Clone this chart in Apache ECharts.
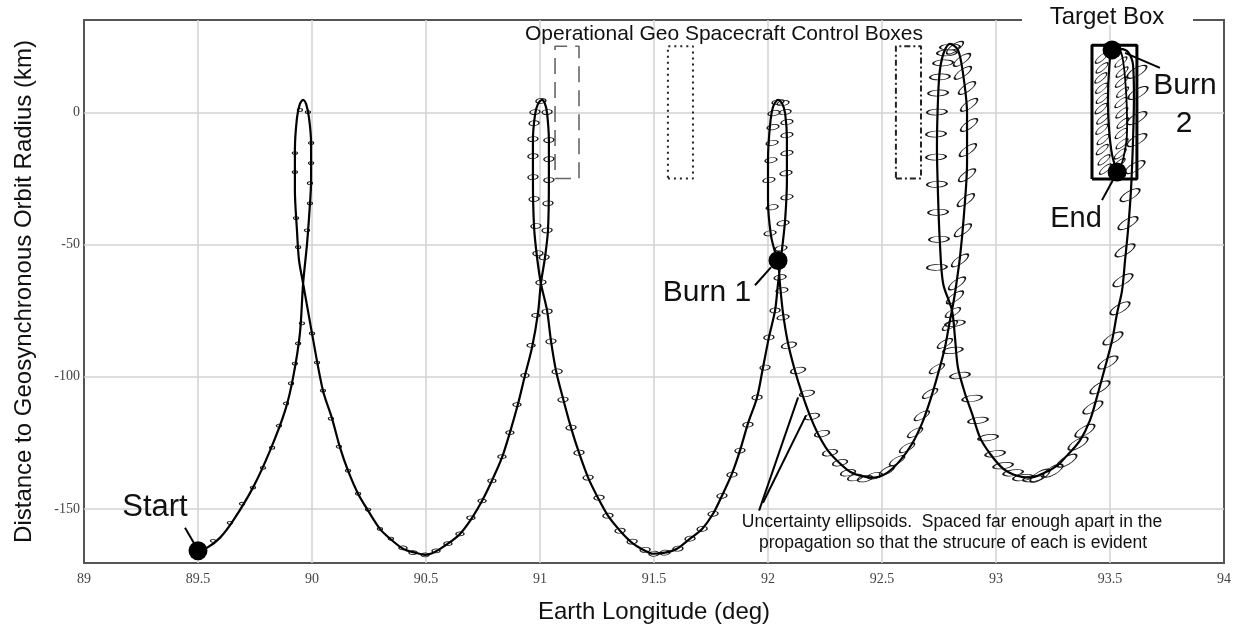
<!DOCTYPE html>
<html><head><meta charset="utf-8">
<script src="https://cdn.jsdelivr.net/npm/echarts@6/dist/echarts.min.js"></script>
<style>html,body{margin:0;padding:0;background:#fff}#c{width:1239px;height:630px}</style>
</head><body><div id="c"></div>
<script>
// ---- Trajectory (Earth longitude deg, distance to GEO radius km) ----
const trajLon = [
89.500,89.539,89.596,89.654,89.741,89.816,89.882,89.917,89.947,89.961,
89.978,89.987,89.996,89.996,89.987,89.974,89.961,89.947,89.934,89.925,
89.925,89.934,89.943,89.961,90.000,90.048,90.088,90.123,90.158,90.202,
90.246,90.298,90.342,90.399,90.452,90.496,90.539,90.596,90.649,90.702,
90.746,90.789,90.833,90.868,90.904,90.934,90.965,90.991,91.004,91.022,
91.035,91.039,91.039,91.031,91.022,91.009,90.991,90.978,90.969,90.969,
90.974,90.987,91.004,91.031,91.048,91.070,91.101,91.136,91.171,91.211,
91.254,91.298,91.351,91.404,91.452,91.496,91.548,91.601,91.658,91.711,
91.759,91.798,91.842,91.877,91.912,91.952,91.978,92.004,92.031,92.044,
92.061,92.075,92.083,92.083,92.075,92.061,92.044,92.022,92.009,92.000,
92.000,92.013,92.035,92.044,
92.053,92.066,92.088,92.118,92.149,92.184,92.219,92.263,92.316,92.360,
92.404,92.461,92.522,92.579,92.632,92.675,92.711,92.746,92.776,92.798,
92.807,92.820,92.842,92.860,92.873,92.873,92.855,92.833,92.798,92.772,
92.754,92.746,92.741,92.746,92.754,92.768,92.807,92.820,92.833,92.864,
92.895,92.930,92.974,93.031,93.092,93.149,93.206,93.268,93.311,93.368,
93.412,93.447,93.478,93.509,93.531,93.553,93.566,93.579,93.592,93.601,
93.605,93.601,93.579,93.544,93.509,
93.496,93.491,93.496,93.509,93.531];
const trajDist = [
-165.8,-164.7,-160.9,-154.4,-141.9,-127.9,-112.8,-100.3,-83.6,-64.7,
-49.9,-39.7,-25.6,-11.6,-2.2,3.2,4.7,3.2,-2.2,-14.3,
-29.4,-44.6,-55.9,-64.7,-83.6,-105.2,-115.8,-126.8,-135.5,-144.2,
-150.6,-157.5,-161.2,-165.0,-166.5,-167.3,-166.2,-163.1,-159.4,-153.3,
-146.9,-139.3,-130.6,-121.1,-110.1,-99.5,-88.9,-76.0,-64.7,-54.8,
-44.6,-25.6,-10.5,-0.3,3.2,4.7,3.2,-1.1,-10.5,-25.6,
-43.4,-54.8,-64.7,-74.9,-86.3,-97.6,-108.2,-119.2,-128.7,-138.1,
-145.7,-152.5,-158.2,-162.8,-165.4,-166.9,-166.5,-165.0,-161.2,-157.5,
-151.8,-145.0,-136.6,-127.9,-117.7,-107.8,-96.5,-85.1,-74.9,-64.7,
-52.2,-40.8,-25.6,-10.5,-0.3,3.5,4.7,2.0,-4.8,-18.1,
-33.2,-46.5,-54.1,-56.0,
-65.4,-76.0,-87.4,-97.6,-106.3,-114.7,-121.5,-127.9,-132.8,-135.9,
-137.4,-138.1,-136.3,-131.7,-125.3,-117.7,-109.0,-98.8,-88.9,-78.7,
-74.9,-68.4,-54.8,-38.1,-19.2,-0.3,14.9,23.6,25.9,22.8,
16.0,5.8,-13.1,-32.1,-49.5,-64.7,-74.9,-85.1,-96.5,-106.3,
-113.9,-123.0,-129.1,-134.7,-137.4,-138.1,-136.6,-133.6,-129.8,-124.1,
-116.5,-106.3,-96.5,-86.3,-76.0,-67.3,-56.0,-44.6,-29.4,-10.5,
5.8,17.9,22.8,24.0,23.6,
16.0,4.7,-6.6,-16.0,-22.6];
// second drift curve inside the target box
const boxCurveLon = [93.509,93.548,93.570,93.575,93.557,93.531];
const boxCurveDist = [23.6,22.8,8.4,-6.6,-18.0,-22.6];

// ---- Events ----
const eventNames = ['Start','Burn 1','Burn 2','End'];
const eventLon = [89.500, 92.044, 93.509, 93.531];
const eventDist = [-165.8, -56.0, 23.6, -22.6];

// ---- Uncertainty ellipsoid centres, by propagation stage ----
const ellTinyLon = [89.566,89.640,89.693,89.741,89.785,89.825,89.855,89.886,89.908,89.925,89.939,89.956,
  89.925,89.925,89.930,89.939,89.996,89.996,89.991,89.991,89.978,89.947,89.982,
  90.000,90.022,90.048,90.083,90.118,90.158,90.202,90.246,90.298,90.346];
const ellTinyDist = [-162.0,-155.2,-148.0,-141.9,-134.4,-126.8,-118.5,-110.1,-102.5,-95.0,-87.4,-79.8,
  -15.4,-22.6,-40.0,-51.0,-11.6,-19.2,-26.8,-34.4,-44.6,0.9,0.1,
  -83.6,-94.6,-105.2,-115.8,-126.4,-135.5,-144.2,-150.2,-157.5,-161.2];
const ellSmallLon = [90.399,90.443,90.496,90.544,90.596,90.649,90.697,90.746,90.789,90.833,90.868,90.899,90.934,90.961,90.982];
const ellSmallDist = [-164.7,-166.5,-167.3,-165.8,-163.1,-159.4,-153.3,-146.9,-139.3,-130.2,-121.1,-110.5,-99.5,-88.1,-76.8];
const ellMedLon = [90.978,90.974,90.969,90.969,90.969,90.974,90.982,90.991,
  91.031,91.039,91.039,91.039,91.035,91.031,91.018,91.004,91.004,
  91.031,91.048,91.075,91.101,91.136,91.171,91.211,91.259,91.298,91.351,91.404,91.461,91.500,
  91.548,91.605,91.658,91.711,91.759,91.798,91.842,91.877,91.912,91.952,91.987,92.004,92.031];
const ellMedDist = [0.1,-4.1,-10.1,-16.6,-24.5,-32.8,-43.0,-53.3,
  0.1,-10.5,-17.7,-25.6,-34.4,-44.6,-54.8,4.3,-64.3,
  -75.3,-86.6,-98.0,-108.6,-119.2,-128.7,-138.1,-145.7,-152.5,-158.2,-162.3,-165.4,-166.9,
  -166.5,-165.0,-161.2,-157.5,-151.8,-145.0,-137.0,-127.9,-118.1,-107.8,-96.5,-85.1,-74.9];
const ellLoop3Lon = [92.009,92.018,92.004,92.013,92.018,92.022,92.026,92.044,
  92.066,92.075,92.083,92.083,92.083,92.079,92.083,92.066,92.057,92.053,92.061,92.066];
const ellLoop3Dist = [-45.7,-35.9,-25.6,-18.1,-11.6,-5.6,-0.3,3.9,
  3.5,0.1,-3.7,-8.6,-15.4,-23.0,-32.1,-41.9,-51.4,-62.4,-67.3,-77.5];
const ellPost1Lon = [92.092,92.132,92.171,92.193,92.237,92.272,92.316,92.351,92.382,92.425,92.469];
const ellPost1Dist = [-88.1,-97.6,-106.3,-115.0,-121.5,-128.7,-132.5,-136.3,-138.1,-138.5,-137.4];
const ellRise4Lon = [92.522,92.566,92.610,92.645,92.675,92.711,92.741,92.776,92.798,92.811];
const ellRise4Dist = [-135.5,-131.7,-126.8,-121.1,-114.7,-106.3,-96.9,-87.4,-80.6,-75.7];
const ellLoop4RLon = [92.820,92.851,92.855,92.873,92.882,92.882,92.877,92.873,92.868,92.855,92.842,92.829,92.820];
const ellLoop4RDist = [24.4,19.8,14.9,9.2,2.8,-4.8,-14.3,-23.8,-33.2,-44.6,-56.0,-64.7,-70.0];
const ellLoop4LLon = [92.741,92.750,92.746,92.741,92.737,92.737,92.741,92.746,92.754,92.768,92.785,92.798];
const ellLoop4LDist = [-58.6,-48.0,-37.8,-27.2,-16.9,-8.2,0.1,7.3,13.4,18.7,22.5,24.7];
const ellDesc4Lon = [92.820,92.811,92.842,92.895,92.921,92.965,92.996,93.031,93.075,93.118,93.162];
const ellDesc4Dist = [-79.8,-90.0,-99.5,-108.2,-116.5,-123.0,-129.1,-133.6,-136.3,-138.1,-138.5];
const ellRiseTLon = [93.193,93.250,93.311,93.360,93.390,93.425,93.456,93.491,93.513,93.544,93.557,93.566,93.579,93.588,93.610,93.618,93.618,93.623,93.618];
const ellRiseTDist = [-137.4,-135.5,-131.7,-125.3,-120.4,-111.6,-104.0,-94.6,-85.5,-74.1,-63.5,-52.2,-41.9,-31.3,-20.7,-10.5,-2.2,7.3,15.3];
const ellBoxLon = [93.462,93.548,93.465,93.553,93.460,93.550,93.463,93.555,93.466,93.548,93.461,93.552,93.468,93.557,93.464,93.549,93.470,93.553,93.466,93.545,93.474,93.540,93.480,93.530];
const ellBoxDist = [20.5,19.0,16.8,15.2,13.0,11.4,9.1,7.6,5.3,3.7,1.4,-0.2,-2.5,-4.1,-6.4,-8.0,-10.3,-11.9,-14.1,-15.7,-18.0,-19.4,-21.5,-22.8];

// ---- Control boxes [lonMin, lonMax], [distMin, distMax] ----
const dashedBoxLon = [91.066, 91.171];
const dottedBoxLon = [91.561, 91.671];
const dashDotBoxLon = [92.561, 92.671];
const controlBoxDist = [-25, 25];
const targetBoxLon = [93.421, 93.618];
const targetBoxDist = [-25.2, 25.4];

// ---- Callout leader lines ----
const calloutFromLon = [89.443, 91.943, 93.566, 93.465, 91.961, 91.978];
const calloutFromDist = [-157.1, -65.4, 22.5, -33.2, -150.6, -147.6];
const calloutToLon = [89.482, 92.013, 93.719, 93.513, 92.132, 92.167];
const calloutToDist = [-162.8, -58.6, 16.8, -25.6, -107.8, -114.6];

// ---- Axis ----
const xTicks = {min: 89, max: 94, step: 0.5};
const yRange = {min: -170.4, max: 34.9, step: 50};

const chart = echarts.init(document.getElementById('c'), null, {renderer: 'canvas'});
const ELL = 'path://M0,5 C0,2.24 4.48,0 10,0 C15.52,0 20,2.24 20,5 C20,7.76 15.52,10 10,10 C4.48,10 0,7.76 0,5 Z';
const zip = (a, b) => a.map((v, i) => [v, b[i]]);
function ellSeries(lon, dist, size, rot, w) {
  return {type: 'scatter', data: zip(lon, dist), symbol: ELL, symbolSize: size, symbolRotate: rot,
    itemStyle: {color: 'rgba(0,0,0,0)', borderColor: '#151515', borderWidth: w, opacity: 1}, z: 3, silent: true};
}
function rect(lon, dist) {
  return [[lon[0], dist[0]], [lon[1], dist[0]], [lon[1], dist[1]], [lon[0], dist[1]], [lon[0], dist[0]]];
}
function boxSeries(lon, dist, style) {
  return {type: 'line', data: rect(lon, dist), showSymbol: false, lineStyle: style, z: 2, silent: true};
}
const series = [
  {type: 'line', data: zip(trajLon, trajDist), showSymbol: false, smooth: 0.3,
   lineStyle: {color: '#000', width: 2.2}, z: 4, silent: true},
  {type: 'line', data: zip(boxCurveLon, boxCurveDist), showSymbol: false, smooth: 0.3,
   lineStyle: {color: '#000', width: 1.8}, z: 4, silent: true},
  ellSeries(ellTinyLon, ellTinyDist, [5, 3], 0, 1),
  ellSeries(ellSmallLon, ellSmallDist, [8, 4], 0, 1),
  ellSeries(ellMedLon, ellMedDist, [10, 5], 5, 1),
  ellSeries(ellLoop3Lon, ellLoop3Dist, [12, 5], 10, 1),
  ellSeries(ellPost1Lon, ellPost1Dist, [15, 6], 12, 1.1),
  ellSeries(ellRise4Lon, ellRise4Dist, [17, 6], 30, 1.1),
  ellSeries(ellLoop4RLon, ellLoop4RDist, [20, 7], 35, 1.2),
  ellSeries(ellLoop4LLon, ellLoop4LDist, [20, 6], 3, 1.2),
  ellSeries(ellDesc4Lon, ellDesc4Dist, [20, 6], 8, 1.2),
  ellSeries(ellRiseTLon, ellRiseTDist, [22, 8], 30, 1.2),
  ellSeries(ellBoxLon, ellBoxDist, [15, 5], 40, 1),
  boxSeries(dashedBoxLon, controlBoxDist, {color: '#666', width: 1.6, type: [16, 8]}),
  boxSeries(dottedBoxLon, controlBoxDist, {color: '#222', width: 2, type: [2, 4]}),
  boxSeries(dashDotBoxLon, controlBoxDist, {color: '#222', width: 2, type: [6, 3, 2, 3]}),
  boxSeries(targetBoxLon, targetBoxDist, {color: '#000', width: 3}),
  {type: 'scatter', data: zip(eventLon, eventDist), symbol: 'circle', symbolSize: 19,
   itemStyle: {color: '#000', opacity: 1}, z: 6, silent: true}
];
calloutFromLon.forEach((v, i) => {
  series.push({type: 'line', data: [[v, calloutFromDist[i]], [calloutToLon[i], calloutToDist[i]]],
    showSymbol: false, lineStyle: {color: '#000', width: 2}, z: 5, silent: true});
});

const SANS = 'Liberation Sans, Arial, sans-serif';
function txt(text, x, y, size) {
  return {type: 'text', x: x, y: y, z: 101,
    style: {text: text, font: size + 'px ' + SANS, fill: '#111', align: 'center', verticalAlign: 'middle',
      textAlign: 'center', textVerticalAlign: 'middle'}};
}

chart.setOption({
  animation: false,
  backgroundColor: '#fff',
  grid: {left: 84, right: 15, top: 20, bottom: 67, show: true, borderColor: '#555', borderWidth: 2},
  xAxis: {type: 'value', min: xTicks.min, max: xTicks.max, interval: xTicks.step,
    axisLine: {show: false}, axisTick: {show: false},
    splitLine: {show: true, showMinLine: false, showMaxLine: false, lineStyle: {color: '#d2d2d2', width: 1.5}},
    axisLabel: {fontFamily: 'Liberation Serif, serif', fontSize: 14, color: '#444', margin: 9},
    name: 'Earth Longitude (deg)', nameLocation: 'middle', nameGap: 37,
    nameTextStyle: {fontFamily: SANS, fontSize: 24, color: '#111'}},
  yAxis: {type: 'value', min: yRange.min, max: yRange.max, splitNumber: 4,
    minInterval: yRange.step, maxInterval: yRange.step,
    axisLine: {show: false}, axisTick: {show: false},
    splitLine: {show: true, showMinLine: false, showMaxLine: false, lineStyle: {color: '#d2d2d2', width: 1.5}},
    axisLabel: {fontFamily: 'Liberation Serif, serif', fontSize: 14, color: '#444', margin: 4,
      showMinLabel: false, showMaxLabel: false,
      formatter: v => (Math.abs(v % yRange.step) < 1e-6 ? String(v) : '')},
    name: 'Distance to Geosynchronous Orbit Radius (km)', nameLocation: 'middle', nameGap: 48,
    nameTextStyle: {fontFamily: SANS, fontSize: 24, color: '#111'}},
  series: series,
  graphic: [
    {type: 'rect', shape: {x: 1022, y: 15, width: 171, height: 10}, style: {fill: '#fff'}, z: 100},
    txt('Target Box', 1107, 17, 24),
    txt('Operational Geo Spacecraft Control Boxes', 724, 34, 21),
    txt('Start', 155, 507, 31),
    txt('Burn 1', 707, 293, 30),
    txt('Burn', 1185, 86, 30),
    txt('2', 1184, 124, 30),
    txt('End', 1076, 219, 29),
    txt('Uncertainty ellipsoids.  Spaced far enough apart in the', 952, 522, 17.5),
    txt('propagation so that the strucure of each is evident', 953, 543, 17.5)
  ]
});
</script>
</body></html>
